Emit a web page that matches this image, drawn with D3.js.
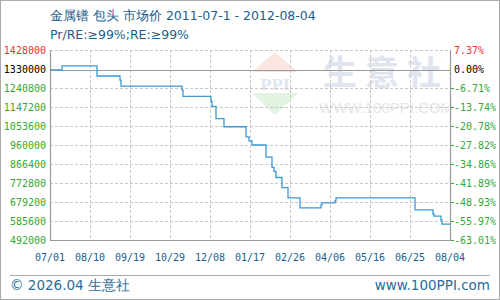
<!DOCTYPE html>
<html><head><meta charset="utf-8">
<script src="https://cdn.jsdelivr.net/npm/d3@7"></script>
<style>html,body{margin:0;padding:0;background:#fff;}svg{display:block;}</style>
</head><body>
<script>
const title = "金属镨 包头 市场价 2011-07-1 - 2012-08-04";
const subtitle = "Pr/RE:≥99%;RE:≥99%";
const basePrice = 1330000;
// step-change dates and prices
const dates = ["2011-07-01","2011-07-13","2011-08-17","2011-09-09","2011-09-10","2011-11-10","2011-11-11",
  "2011-12-09","2011-12-10","2011-12-14","2011-12-22","2012-01-13","2012-01-16","2012-01-19","2012-02-02",
  "2012-02-08","2012-02-10","2012-02-12","2012-02-18","2012-02-24","2012-03-07","2012-03-28","2012-03-29",
  "2012-04-11","2012-04-12","2012-06-30","2012-07-18","2012-07-19","2012-07-26","2012-07-27","2012-08-04"];
const prices = [1330000,1350000,1300000,1280000,1250000,1230000,1200000,
  1175000,1150000,1090000,1050000,1000000,980000,960000,900000,
  850000,830000,800000,750000,700000,650000,665000,675000,
  685000,700000,640000,620000,610000,590000,570000,570000];
const yTicks = [1428000,1330000,1240800,1147200,1053600,960000,866400,772800,679200,585600,492000];
const pctLabels = ["7.37%","0.00%","-6.71%","-13.74%","-20.78%","-27.82%","-34.86%","-41.89%","-48.93%","-55.97%","-63.01%"];
const xTickLabels = ["07/01","08/10","09/19","10/29","12/08","01/17","02/26","04/06","05/16","06/25","08/04"];
const xTickDates = ["2011-07-01","2011-08-10","2011-09-19","2011-10-29","2011-12-08","2012-01-17","2012-02-26","2012-04-06","2012-05-16","2012-06-25","2012-08-04"];

const W=500,H=300, L=50,R=450,T=50,B=240;
const parse = d3.timeParse("%Y-%m-%d");
const data = dates.map((d,i)=>({date:parse(d), v:prices[i]}));
const x = d3.scaleTime().domain([parse("2011-07-01"), parse("2012-08-04")]).range([L,R]);
const y = d3.scaleLinear().domain([492000,1428000]).range([B,T]);

const svg = d3.select("body").append("svg").attr("width",W).attr("height",H);
svg.append("rect").attr("x",0.5).attr("y",0.5).attr("width",W-1).attr("height",H-1).attr("fill","#fff").attr("stroke","#aaa");

// watermark
const wm = svg.append("g");
wm.append("path").attr("d","M275,52 L298,72 L252,72 Z").attr("fill","#fce6e2");
wm.append("text").attr("x",275).attr("y",90).attr("text-anchor","middle").attr("font-family","DejaVu Serif").attr("font-weight","bold")
  .attr("font-size",15).attr("fill","#e0e7f3").text("PPI");
wm.append("path").attr("d","M252,93 L298,93 L275,115 Z").attr("fill","#e2f3e2");
wm.append("text").attr("x",386).attr("y",85).attr("text-anchor","middle").attr("font-family","Noto Sans CJK SC").attr("font-weight","bold")
  .attr("font-size",34).attr("fill","#dfe4ee").attr("letter-spacing",8).text("生意社");
wm.append("text").attr("x",386).attr("y",113).attr("text-anchor","middle").attr("font-family","Liberation Sans")
  .attr("font-size",15).attr("fill","#e6e6e6").text("WWW.100PPI.COM");

// grid
const g = svg.append("g");
yTicks.forEach((t,i)=>{
  if (i===1 || i===yTicks.length-1) return;
  g.append("line").attr("x1",L).attr("x2",R).attr("y1",Math.round(y(t))+0.5).attr("y2",Math.round(y(t))+0.5)
   .attr("stroke","#c8c8c8").attr("stroke-dasharray","3,2");
});
xTickDates.forEach((d,i)=>{
  if (i===0 || i===xTickDates.length-1) return;
  const px = Math.round(x(parse(d)))+0.5;
  g.append("line").attr("x1",px).attr("x2",px).attr("y1",T).attr("y2",B).attr("stroke","#c8c8c8").attr("stroke-dasharray","3,2");
});
// base line
g.append("line").attr("x1",L).attr("x2",R).attr("y1",Math.round(y(basePrice))+0.5).attr("y2",Math.round(y(basePrice))+0.5)
  .attr("stroke","#999").attr("stroke-width",1.2);
// frame
g.append("path").attr("d",`M${L+0.5},${T} L${L+0.5},${B+0.5} L${R+0.5},${B+0.5} L${R+0.5},${T}`)
  .attr("fill","none").attr("stroke","#999").attr("stroke-width",1.2);

// line
const line = d3.line().x(d=>x(d.date)).y(d=>y(d.v)).curve(d3.curveStepAfter);
svg.append("path").datum(data).attr("d",line).attr("fill","none").attr("stroke","#3d98d3").attr("stroke-width",1.3);

// y labels
const colorFor = i => i===0 ? "#ee3333" : (i===1 ? "#000" : "#33aa33");
const lab = svg.append("g").attr("font-family","DejaVu Sans Mono").attr("font-size",10);
yTicks.forEach((t,i)=>{
  lab.append("text").attr("x",46).attr("y",y(t)).attr("dy","0.35em").attr("text-anchor","end").attr("fill",colorFor(i)).text(t);
  lab.append("text").attr("x",454).attr("y",y(t)).attr("dy","0.35em").attr("fill",colorFor(i)).text(pctLabels[i]);
  if (i>1) lab.append("line").attr("x1",451).attr("x2",454).attr("y1",Math.round(y(t))+0.5).attr("y2",Math.round(y(t))+0.5).attr("stroke","#33aa33");
});
// x labels
xTickDates.forEach((d,i)=>{
  lab.append("text").attr("x",x(parse(d))).attr("y",261).attr("text-anchor","middle").attr("fill","#1b5e8c").text(xTickLabels[i]);
});

// titles
svg.append("text").attr("x",50).attr("y",20).attr("font-family","DejaVu Sans").attr("font-size",12.5).attr("fill","#1b5e8c").text(title);
svg.append("text").attr("x",50).attr("y",39).attr("font-family","DejaVu Sans").attr("font-size",12.5).attr("fill","#1b5e8c").text(subtitle);

// footer
svg.append("line").attr("x1",10).attr("x2",490).attr("y1",275.5).attr("y2",275.5).attr("stroke","#aaa");
svg.append("text").attr("x",10).attr("y",290).attr("font-family","DejaVu Sans").attr("font-size",13.5).attr("fill","#2a6c9c").text("© 2026.04 生意社");
svg.append("text").attr("x",490).attr("y",290).attr("text-anchor","end").attr("font-family","DejaVu Sans").attr("font-size",13.5).attr("fill","#2a6c9c").text("www.100PPI.com");
</script>
</body></html>
